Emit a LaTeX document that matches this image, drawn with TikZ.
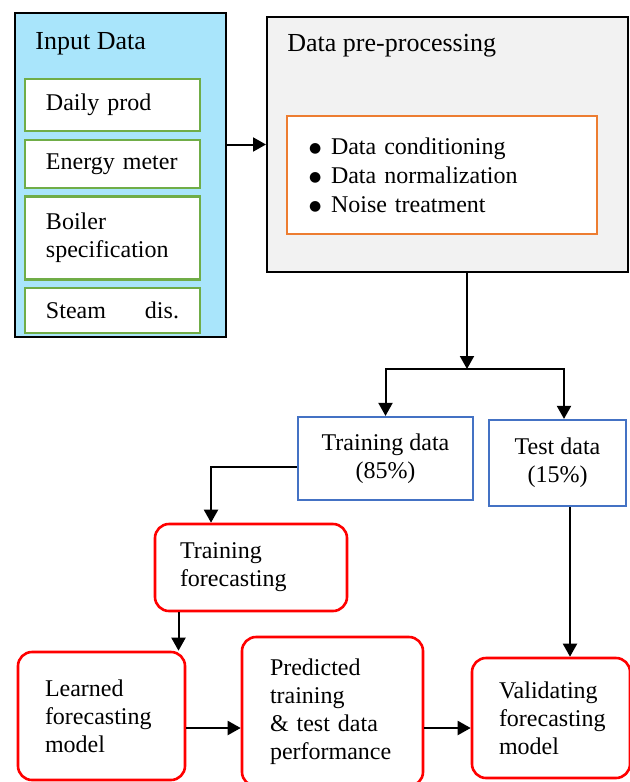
\documentclass[tikz,border=0pt]{standalone}
\usepackage{fontspec}
\setmainfont{Liberation Serif}
\newfontfamily\symfont{DejaVu Sans}
\usetikzlibrary{positioning, arrows.meta}
\usepackage{xcolor}
\definecolor{inputblue}{RGB}{169,229,251}
\definecolor{prepgrey}{RGB}{242,242,242}
\definecolor{ingreen}{RGB}{112,173,71}
\definecolor{steporange}{RGB}{237,125,49}
\definecolor{splitblue}{RGB}{68,114,196}
\newcommand{\stepbullet}{\makebox[11pt][l]{\hspace{0pt}\raisebox{1pt}{\symfont\fontsize{7}{14.5}\selectfont ●}}}

\begin{document}
\begin{tikzpicture}[
        x=0.5pt, y=-0.5pt,
        font=\fontsize{12}{14}\selectfont,
        outerbox/.style={rectangle, draw=black, line width=1pt},
        inbox/.style={rectangle, draw=ingreen, line width=1.1pt, fill=white, minimum width=87.5pt, text width=66.5pt, inner xsep=10.5pt, align=left},
        databox/.style={rectangle, draw=splitblue, line width=1.1pt, fill=white, align=center},
        stepbox/.style={rectangle, draw=red, line width=1.3pt, rounded corners=7pt, fill=white, align=left},
        title/.style={font=\fontsize{13}{15}\selectfont, anchor=base west, inner sep=0pt},
        arr/.style={-{Triangle[length=6.5pt, width=7pt]}, line width=1pt}
    ]
    \useasboundingbox (0,0) rectangle (629,782);

    % INPUT DATA
    \node[outerbox, fill=inputblue, minimum width=105.5pt, minimum height=162pt] (input) at (120.5,175) {};
    \node[title] at ([xshift=10.5pt, yshift=-18.5pt]input.north west) (inputlbl) {Input Data};
    \node[inbox, minimum height=26pt] (daily) at (112.5,105) {Daily prod};
    \node[inbox, minimum height=24pt, below=3.5pt of daily] (energy) {Energy meter};
    \node[inbox, minimum height=41.5pt, below=3pt of energy] (boiler) {Boiler\\specification};
    \node[inbox, minimum height=22.5pt, below=3pt of boiler] (steam) {Steam\hspace{0pt plus 1filll}dis.};

    % PRE-PROCESSING
    \node[outerbox, fill=prepgrey, minimum width=180.5pt, minimum height=127.5pt] (prep) at (447.5,144.5) {};
    \node[title] at ([xshift=10.5pt, yshift=-17.5pt]prep.north west) (preplbl) {Data pre-processing};
    \node[rectangle, draw=steporange, line width=1.1pt, fill=white, minimum width=155pt, minimum height=59pt, text width=133pt, inner xsep=11pt, align=left, font=\fontsize{12}{14.5}\selectfont] (steps) at (442,175)
        {\stepbullet Data conditioning\\\stepbullet Data normalization\\\stepbullet Noise treatment};

    % TRAINING / TEST
    \node[databox, minimum width=87.5pt, minimum height=41.5pt] (train) at (385.5,458.5) {Training data\\(85\%)};
    \node[databox, minimum width=68.5pt, minimum height=43pt] (test) at (557.5,463) {Test data\\(15\%)};

    % FORECASTING
    \node[stepbox, minimum width=96pt, minimum height=43.5pt, text width=71pt, inner xsep=12.5pt] (trainfc) at (251,567.5) {Training\\forecasting};
    \node[stepbox, minimum width=83.5pt, minimum height=64pt, text width=56.5pt, inner xsep=13.5pt] (learned) at (101.5,716) {Learned\\forecasting\\model};
    \node[stepbox, minimum width=90.5pt, minimum height=74.5pt, text width=62.5pt, inner xsep=14pt] (pred) at (332.5,711.5) {Predicted\\training\\\& test data\\performance};
    \node[stepbox, minimum width=79pt, minimum height=60pt, text width=52pt, inner xsep=13.5pt] (valid) at (551,718) {Validating\\forecasting\\model};

    % Flechas
    \coordinate (split) at ([xshift=9.75pt, yshift=-48pt]prep.south);
    \draw[arr] (input.east |- prep.west) -- (prep.west);
    \draw[arr] (prep.south -| split) -- (split);
    \draw[arr] (split) -| (train.north);
    \draw[arr] (split) -| ([xshift=3.25pt]test.north);
    \draw[arr] ([yshift=-4pt]train.west) -| ([xshift=-20pt]trainfc.north);
    \draw[arr] ([xshift=-36.25pt]trainfc.south) -- ([xshift=-36.25pt]trainfc.south |- learned.north);
    \draw[arr] ([xshift=6.25pt]test.south) -- ([xshift=6.25pt]test.south |- valid.north);
    \draw[arr] ([yshift=-6pt]learned.east) -- ([yshift=-6pt]learned.east -| pred.west);
    \draw[arr] ([yshift=-6pt]learned.east -| pred.east) -- ([yshift=-6pt]learned.east -| valid.west);
\end{tikzpicture}
\end{document}
